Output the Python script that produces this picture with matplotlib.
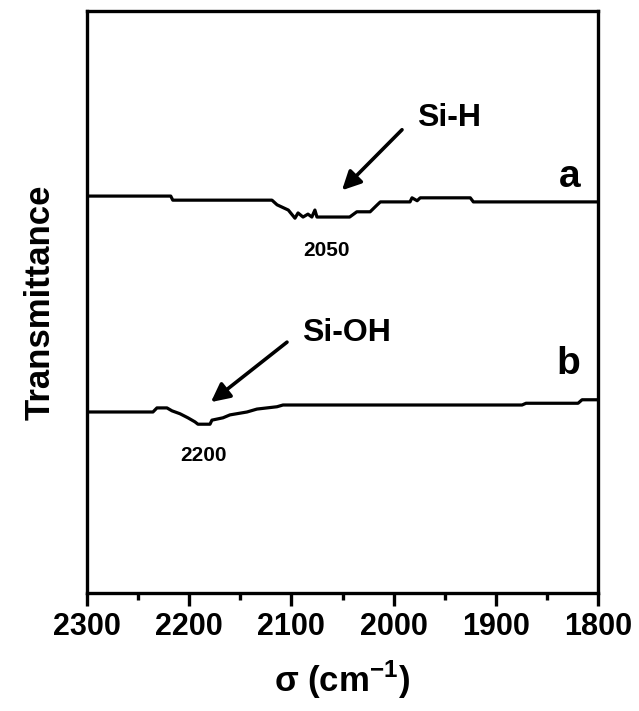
import matplotlib
matplotlib.use("Agg")
import matplotlib.pyplot as plt
from matplotlib.ticker import MultipleLocator

plt.rcParams['font.family'] = ['Liberation Sans', 'DejaVu Sans']
plt.rcParams['font.weight'] = 'bold'
plt.rcParams['mathtext.fontset'] = 'custom'
plt.rcParams['mathtext.rm'] = 'Liberation Sans:bold'
plt.rcParams['mathtext.bf'] = 'Liberation Sans:bold'

# Curve a (Si-H sample): wavenumber (cm-1) and transmittance (arb. units)
wn_a = [2300, 2218, 2216, 2119, 2114, 2103, 2096.5, 2093.5, 2088.6, 2083.8, 2080, 2077, 2075,
        2043, 2036, 2023, 2016, 2013, 1984, 1982, 1977, 1974, 1925, 1922, 1800]
tr_a = [68.2, 68.2, 67.5, 67.5, 66.7, 65.8, 64.4, 65.3, 64.6, 65.1, 64.6, 65.8, 64.6,
        64.6, 65.5, 65.5, 66.7, 67.2, 67.2, 67.9, 67.4, 67.9, 67.9, 67.2, 67.2]

# Curve b (Si-OH sample)
wn_b = [2300, 2235.4, 2231.5, 2221.7, 2216.8, 2209.0, 2201.2, 2194.3, 2191.4, 2179.6, 2177.7,
        2166.9, 2160.1, 2143.4, 2133.7, 2114.1, 2108.2, 1874.4, 1870.5, 1819.6, 1815.7, 1800]
tr_b = [31.1, 31.1, 31.8, 31.8, 31.3, 30.8, 30.1, 29.4, 29.0, 29.0, 29.7,
        30.1, 30.6, 31.1, 31.6, 32.0, 32.3, 32.3, 32.6, 32.6, 33.2, 33.2]

x_ticks = [2300, 2200, 2100, 2000, 1900, 1800]

fig = plt.figure(figsize=(6.39, 7.11), dpi=100)
ax = fig.add_axes([0.136, 0.166, 0.800, 0.8185])

ax.plot(wn_a, tr_a, color='black', lw=2.3, solid_joinstyle='round')
ax.plot(wn_b, tr_b, color='black', lw=2.3, solid_joinstyle='round')

ax.set_xlim(2300, 1800)
ax.set_ylim(0, 100)
ax.set_xticks(x_ticks)
ax.set_xticklabels([str(t) for t in x_ticks])
ax.xaxis.set_minor_locator(MultipleLocator(50))
ax.set_yticks([])

for s in ax.spines.values():
    s.set_linewidth(2.4)
ax.tick_params(axis='x', which='major', direction='out', length=9, width=2.4,
               labelsize=22, pad=5)
ax.tick_params(axis='x', which='minor', direction='out', length=5, width=2.4)
for lab in ax.get_xticklabels():
    lab.set_fontweight('bold')

ax.set_xlabel(r'σ (cm$^{\mathbf{-1}}$)', fontsize=25, fontweight='bold', labelpad=12)
ax.set_ylabel('Transmittance', fontsize=25, fontweight='bold', labelpad=22)

arrow_kw = dict(arrowstyle='-|>', color='black', lw=2.6, mutation_scale=28,
                shrinkA=0, shrinkB=0)
ax.annotate('', xy=(2050.5, 69.2), xytext=(1991.8, 79.6), arrowprops=arrow_kw)
ax.annotate('', xy=(2178.7, 32.8), xytext=(2104.3, 43.1), arrowprops=arrow_kw)

ax.text(1945.8, 81.6, 'Si-H', fontsize=23, fontweight='bold', ha='center', va='center')
ax.text(2046.6, 44.7, 'Si-OH', fontsize=23, fontweight='bold', ha='center', va='center')
ax.text(2065.2, 58.9, '2050', fontsize=15, fontweight='bold', ha='center', va='center')
ax.text(2185.5, 23.7, '2200', fontsize=15, fontweight='bold', ha='center', va='center')
ax.text(1827.4, 71.5, 'a', fontsize=28, fontweight='bold', ha='center', va='center')
ax.text(1829.4, 39.3, 'b', fontsize=28, fontweight='bold', ha='center', va='center')

fig.savefig('out.png', dpi=100)
